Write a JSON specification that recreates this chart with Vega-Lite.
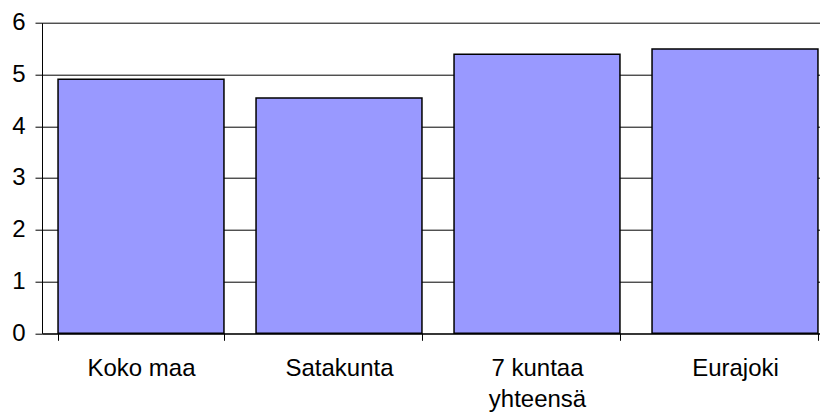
{
  "$schema": "https://vega.github.io/schema/vega-lite/v6.json",
  "width": 792,
  "height": 310.6,
  "autosize": {"type": "none"},
  "padding": {"left": 42, "top": 22.7, "right": 0, "bottom": 80},
  "background": "white",
  "config": {
    "view": {"stroke": null},
    "font": "Liberation Sans"
  },
  "data": {
    "values": [
      {"alue": "Koko maa", "arvo": 4.91},
      {"alue": "Satakunta", "arvo": 4.545},
      {"alue": "7 kuntaa yhteensä", "arvo": 5.39},
      {"alue": "Eurajoki", "arvo": 5.49}
    ]
  },
  "mark": {"type": "bar", "fill": "#9999FF", "stroke": "#000000", "strokeWidth": 1.5},
  "encoding": {
    "x": {
      "field": "alue",
      "type": "nominal",
      "sort": null,
      "scale": {"paddingInner": 0.162, "paddingOuter": 0.081},
      "axis": {
        "title": null,
        "labelAngle": 0,
        "labelFont": "Liberation Sans",
        "labelFontSize": 24,
        "labelColor": "#000000",
        "labelPadding": 16,
        "labelLineHeight": 31,
        "labelExpr": "datum.value == '7 kuntaa yhteensä' ? ['7 kuntaa', 'yhteensä'] : datum.value",
        "tickBand": "extent",
        "tickSize": 7,
        "tickColor": "#000000",
        "domainColor": "#000000",
        "grid": false
      }
    },
    "y": {
      "field": "arvo",
      "type": "quantitative",
      "scale": {"domain": [0, 6], "nice": false},
      "axis": {
        "title": null,
        "values": [0, 1, 2, 3, 4, 5, 6],
        "labelFont": "Liberation Sans",
        "labelFontSize": 24,
        "labelColor": "#000000",
        "labelPadding": 10,
        "tickSize": 7,
        "tickColor": "#000000",
        "domainColor": "#000000",
        "grid": true,
        "gridColor": "#000000",
        "gridWidth": 1
      }
    }
  }
}
